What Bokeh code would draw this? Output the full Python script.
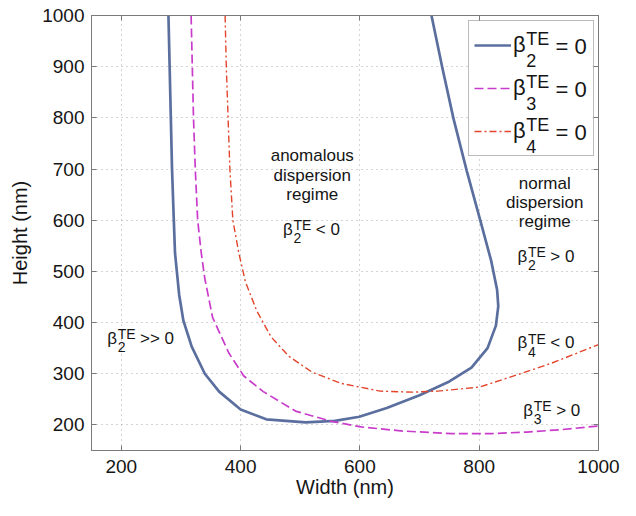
from bokeh.plotting import figure
from bokeh.models import Range1d, FixedTicker, LinearAxis, Legend, LegendItem, Label, BoxAnnotation
from bokeh.core.properties import value
from bokeh.embed import file_html
from bokeh.resources import INLINE

# ---- data (nm) ----
b2_width = [279, 281, 283, 285, 288, 290, 297, 304, 318, 340, 364, 400, 443, 509, 558,
            599, 645, 700, 750, 787, 814, 828, 832, 830, 820, 801, 779, 757, 738, 720]
b2_height = [1000, 900, 800, 700, 600, 536, 454, 404, 353, 300, 265, 230, 211, 205, 208,
             216, 233, 258, 285, 312, 350, 394, 432, 464, 521, 603, 697, 798, 899, 1000]

b3_width = [317, 319, 321, 324, 328, 334, 340, 353, 380, 405, 438, 492, 552, 602, 672,
            754, 820, 880, 940, 1000]
b3_height = [1000, 900, 800, 700, 600, 536, 486, 410, 341, 296, 265, 227, 207, 196, 188,
             183, 183, 186, 191, 198]

b4_width = [374, 376, 379, 382, 387, 397, 408, 427, 451, 481, 520, 569, 634, 689, 730,
            801, 869, 920, 1000]
b4_height = [1000, 900, 800, 700, 600, 536, 480, 423, 372, 334, 303, 281, 266, 264, 266,
             274, 300, 320, 357]

x_ticks = [200, 400, 600, 800, 1000]
y_ticks = [200, 300, 400, 500, 600, 700, 800, 900, 1000]
legend_subs = ["2", "3", "4"]

FONT = "Liberation Sans"
AX = "#7a7a7a"
TXT = "#151515"

X0, X1, Y0, Y1 = 150, 1000, 150, 1000
W, H = 620, 500
BL, BR, BT, BB = 91, 22, 15, 50
FW, FH = W - BL - BR, H - BT - BB
FL, FT = BL, BT  # canvas position of the frame

p = figure(width=W, height=H,
           x_range=Range1d(X0, X1), y_range=Range1d(Y0, Y1),
           output_backend="svg", toolbar_location=None,
           min_border_left=BL, min_border_right=BR, min_border_top=BT, min_border_bottom=BB)
p.outline_line_color = AX
p.background_fill_color = "white"
p.border_fill_color = "white"

def style_axis(ax, labels=True):
    ax.major_tick_in = 5
    ax.major_tick_out = 0
    ax.minor_tick_in = 0
    ax.minor_tick_out = 0
    ax.axis_line_color = AX
    ax.major_tick_line_color = AX
    if labels:
        ax.major_label_text_font = FONT
        ax.major_label_text_font_size = "19px"
        ax.major_label_text_color = TXT
        ax.axis_label_text_font = FONT
        ax.axis_label_text_font_size = "20px"
        ax.axis_label_text_font_style = "normal"
        ax.axis_label_text_color = TXT
    else:
        ax.major_label_text_color = None
        ax.major_label_standoff = 0

xa = p.xaxis[0]
ya = p.yaxis[0]
xa.ticker = FixedTicker(ticks=x_ticks)
ya.ticker = FixedTicker(ticks=y_ticks)
style_axis(xa)
style_axis(ya)
xa.axis_label = "Width (nm)"
ya.axis_label = "Height (nm)"
xa.major_label_standoff = 9
xa.axis_label_standoff = 0
ya.major_label_standoff = 7
ya.axis_label_standoff = 8

top = LinearAxis(ticker=FixedTicker(ticks=x_ticks))
right = LinearAxis(ticker=FixedTicker(ticks=y_ticks))
style_axis(top, labels=False)
style_axis(right, labels=False)
top.major_label_overrides = {t: "" for t in x_ticks}
right.major_label_overrides = {t: "" for t in y_ticks}
p.add_layout(top, "above")
p.add_layout(right, "right")

for g, t in ((p.xgrid[0], x_ticks), (p.ygrid[0], y_ticks)):
    g.ticker = FixedTicker(ticks=t)
    g.grid_line_color = "#a8a8a8"
    g.grid_line_dash = "1 4"
    g.grid_line_width = 1

# ---- conversions ----
def Xf(px):  # actual canvas px -> data
    return X0 + (px - FL) * (X1 - X0) / FW

def Yf(py):
    return Y0 + (FT + FH - py) * (Y1 - Y0) / FH

def Xr(px):  # reference picture px -> data (reference frame 91..610 x 15..464)
    return X0 + (px - 91) * (X1 - X0) / 519

def Yr(py):
    return Y0 + (464 - py) * (Y1 - Y0) / 449

# legend geometry (frame-relative screen px)
LG_W, LG_H = 124, 134
LG_LEFT = FW - 6 - LG_W
LG_TOP = 7
legend_bg = BoxAnnotation(left=Xf(FL + LG_LEFT), right=Xf(FL + LG_LEFT + LG_W),
                          top=Yf(FT + LG_TOP), bottom=Yf(FT + LG_TOP + LG_H),
                          fill_color="white", fill_alpha=1, line_color=None,
                          level="underlay")
p.add_layout(legend_bg)

r2 = p.line(b2_width, b2_height, line_color="#5b6f9f", line_width=2.7)
r3 = p.line(b3_width, b3_height, line_color="#c93ccb", line_width=1.7, line_dash="9 4")
r4 = p.line(b4_width, b4_height, line_color="#e2452b", line_width=1.4, line_dash="7 3 2 3")

legend = Legend(items=[LegendItem(label=value("β"), renderers=[r]) for r in (r2, r3, r4)],
                location=(LG_LEFT, FH - LG_TOP - LG_H), padding=5, spacing=5, margin=0,
                glyph_width=37, glyph_height=38, label_standoff=2, label_width=75,
                label_text_font=FONT, label_text_font_size="22px", label_text_color=TXT,
                border_line_color=AX, border_line_width=1,
                background_fill_alpha=0)
p.add_layout(legend)

def txt(x, y, s, size, align="left"):
    p.add_layout(Label(x=x, y=y, text=s, text_font=FONT,
                       text_font_size=f"{size}px", text_align=align,
                       text_baseline="middle", text_color=TXT, level="overlay"))

def beta(px, py, sub, tail, size, ssize, up, down, gap):
    bw = 0.576 * size
    txt(Xr(px), Yr(py), "β", size)
    txt(Xr(px + bw + 1), Yr(py - up * size), "TE", ssize)
    txt(Xr(px + bw + 1), Yr(py + down * size), sub, ssize)
    txt(Xr(px + bw + 1 + 1.278 * ssize + gap), Yr(py), tail, size)

# legend scripts (β itself comes from the legend)
bx = FL + LG_LEFT + 5 + 37 + 2
for i, s in enumerate(legend_subs):
    cy = FT + LG_TOP + 5 + 19 + 43 * i
    txt(Xf(bx + 0.576 * 22 + 1), Yf(cy - 0.32 * 22), "TE", 18)
    txt(Xf(bx + 0.576 * 22 + 1), Yf(cy + 0.62 * 22), s, 18)
    txt(Xf(bx + 43), Yf(cy), "= 0", 22)

for j, line in enumerate(["anomalous", "dispersion", "regime"]):
    txt(Xr(317), Yr(160 + 20 * j), line, 17, "center")
for j, line in enumerate(["normal", "dispersion", "regime"]):
    txt(Xr(555), Yr(188 + 20 * j), line, 17, "center")

beta(287, 236, "2", "< 0", 17, 14, 0.26, 0.52, 5)
beta(527, 264, "2", "> 0", 17, 14, 0.26, 0.52, 5)
beta(527, 353, "4", "< 0", 17, 14, 0.26, 0.52, 5)
beta(533, 423, "3", "> 0", 17, 14, 0.26, 0.52, 5)
beta(107, 348, "2", ">> 0", 17, 14, 0.26, 0.52, 5)

open("out.html", "w").write(file_html(p, INLINE))
